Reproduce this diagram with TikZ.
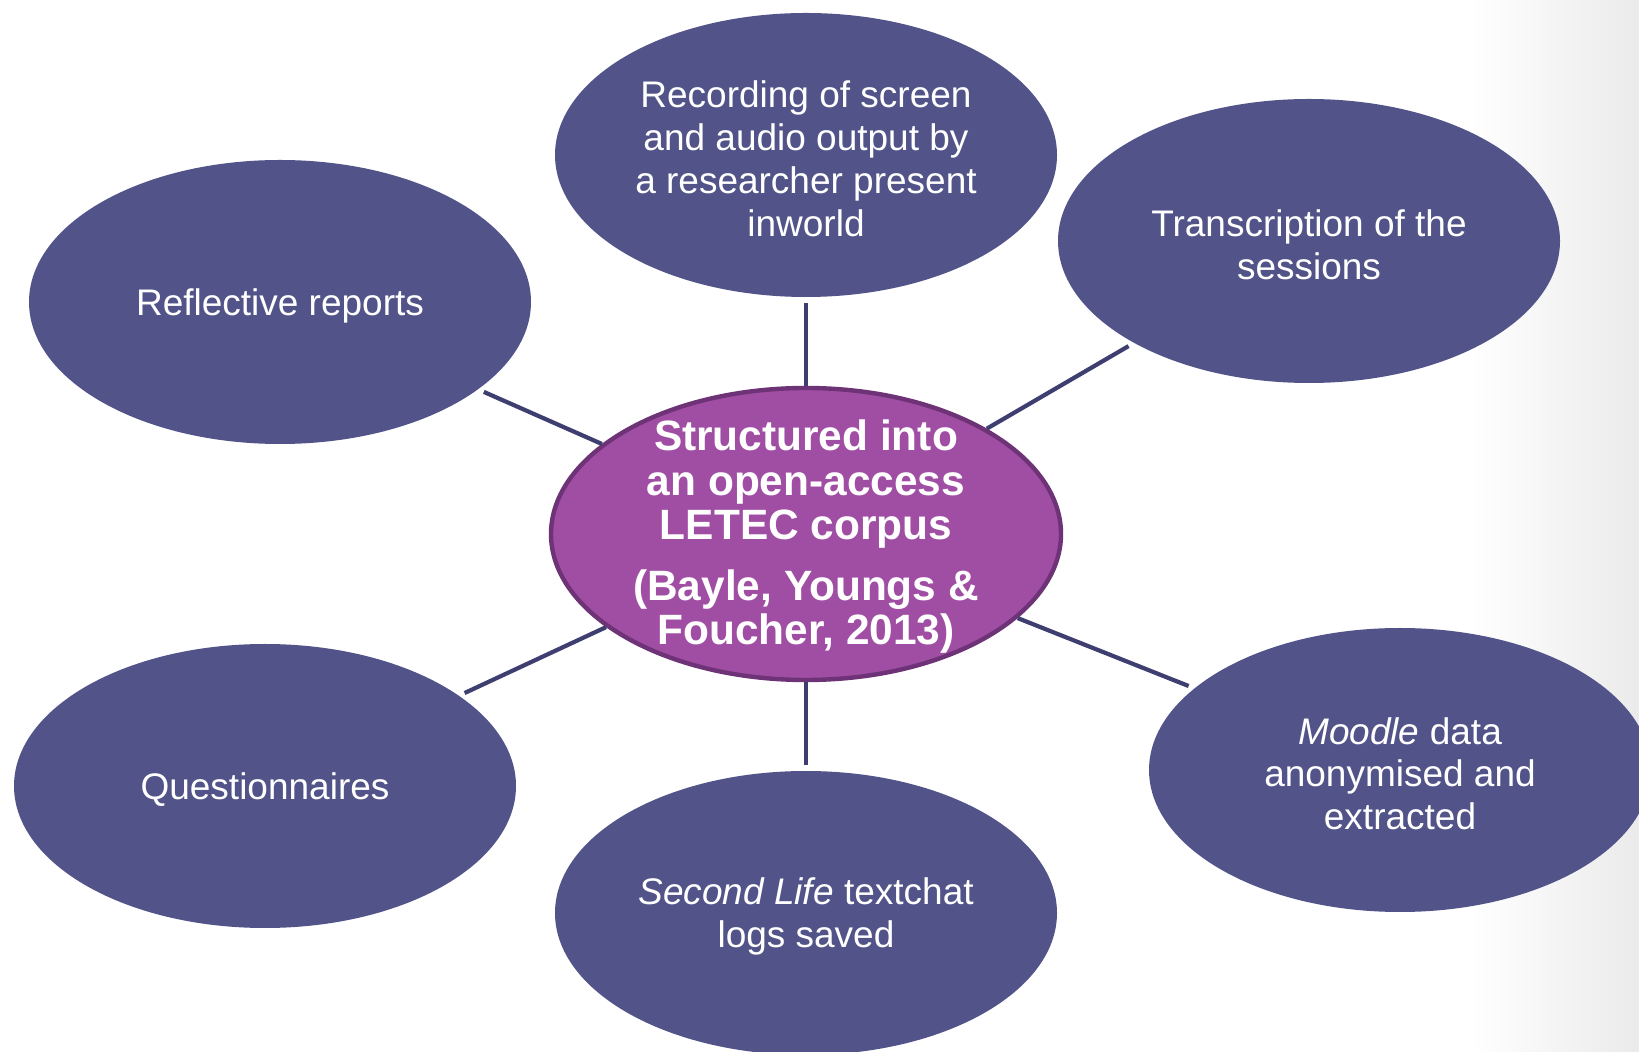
\documentclass[tikz,border=0pt]{standalone}
\usepackage{fontspec}
\setmainfont{Liberation Sans}
\usetikzlibrary{shapes.geometric}
\definecolor{outerfill}{RGB}{82,84,137}
\definecolor{corefill}{RGB}{160,78,163}
\definecolor{coreline}{RGB}{110,50,118}
\definecolor{linkcol}{RGB}{62,63,112}
\begin{document}
\begin{tikzpicture}[x=0.5pt,y=-0.5pt,
  outer/.style={ellipse, fill=outerfill, minimum width=251pt, minimum height=142pt, inner sep=0pt},
  core/.style={ellipse, fill=corefill, draw=coreline, line width=2.2pt, minimum width=255pt, minimum height=146pt, inner sep=0pt},
  txt/.style={text=white, align=center, font=\fontsize{18.5}{21.4}\selectfont, inner sep=0pt, yshift=-1.8pt},
  coretxt/.style={text=white, align=center, font=\fontsize{21.2}{22.2}\selectfont\bfseries, inner sep=0pt, yshift=-1.4pt},
  link/.style={draw=linkcol, line width=2.1pt, shorten >=3pt}]
\useasboundingbox (0,0) rectangle (1639,1052);
\clip (0,0) rectangle (1639,1052);
\fill[white] (0,0) rectangle (1639,1052);
\shade[left color=white, right color=black!8] (1470,0) rectangle (1639,1052);
% nodes
\node[outer] (rec) at (806,155) {};
\node[outer] (tra) at (1309,241) {};
\node[outer] (ref) at (280,302) {};
\node[outer] (que) at (265,786) {};
\node[outer] (sec) at (806,913) {};
\node[outer] (moo) at (1400,770) {};
\node[core] (core) at (806,534) {};
% connectors
\draw[link] (core) -- (rec);
\draw[link] (core) -- (tra);
\draw[link] (core) -- (ref);
\draw[link] (core) -- (que);
\draw[link] (core) -- (sec);
\draw[link] (core) -- (moo);
% texts
\node[txt] (recT) at (rec) {Recording of screen\\and audio output by\\a researcher present\\inworld};
\node[txt] (traT) at (tra) {Transcription of the\\sessions};
\node[txt] (refT) at (ref) {Reflective reports};
\node[txt] (queT) at (que) {Questionnaires};
\node[txt] (secT) at (sec) {\textit{Second Life} textchat\\logs saved};
\node[txt] (mooT) at (moo) {\textit{Moodle} data\\anonymised and\\extracted};
\node[coretxt] (coreT) at (core) {Structured into\\an open-access\\LETEC corpus\\[8pt](Bayle, Youngs \&\\Foucher, 2013)};
\end{tikzpicture}
\end{document}
